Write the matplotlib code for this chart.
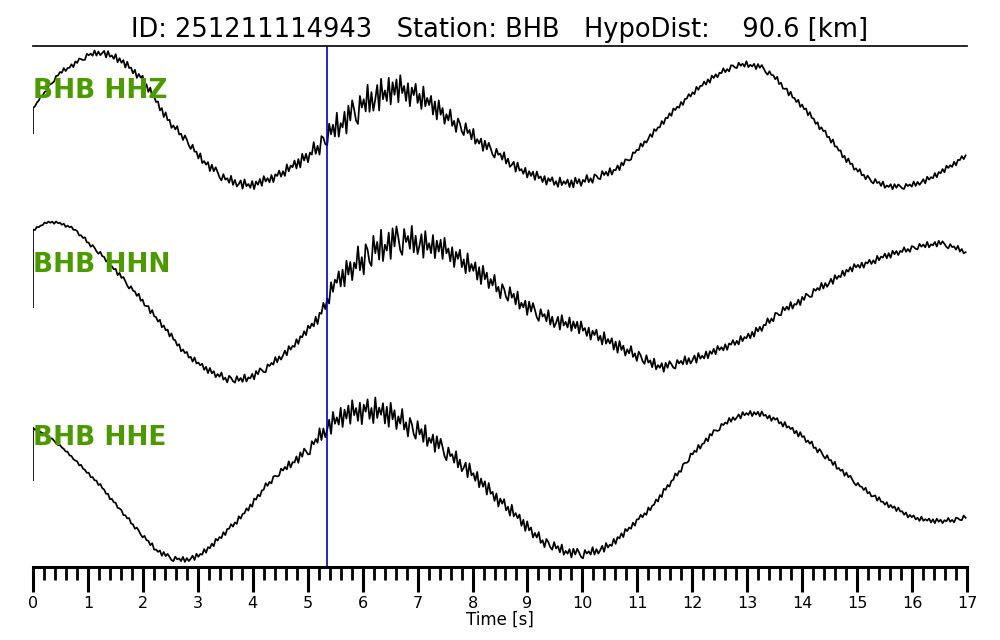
import numpy as np
import matplotlib
matplotlib.use("Agg")
from matplotlib import pyplot as plt
from matplotlib.ticker import MultipleLocator

event_id = "251211114943"
station = "BHB"
hypo_dist = 90.6
channels = ["HHZ", "HHN", "HHE"]
p_pick = 5.345  # s

# smooth trace shape, read every 0.25 s (arbitrary counts)
t_knots = np.arange(0, 17.001, 0.25)
hhz = [10, 29, 46, 54, 63, 66, 61, 51, 39, 16, -5, -19, -37, -50, -61, -65, -67, -62, -56, -47,
       -38, -25, -9, 1, 13, 23, 28, 28, 23, 14, 3, -7, -17, -29, -37, -47, -55, -60, -64, -65,
       -63, -59, -54, -46, -32, -17, -2, 12, 25, 36, 45, 52, 54, 51, 41, 26, 12, -4, -20, -38,
       -52, -62, -67, -69, -67, -62, -55, -46, -37]
hhn = [70, 78, 77, 71, 58, 45, 30, 14, -1, -18, -35, -52, -63, -72, -78, -80, -76, -68, -57, -45,
       -30, -13, 18, 30, 42, 51, 58, 60, 58, 55, 50, 42, 32, 23, 11, 3, -7, -15, -21, -23,
       -29, -35, -42, -49, -55, -63, -67, -63, -59, -55, -49, -43, -37, -28, -16, -7, 0, 10, 18, 27,
       34, 38, 44, 48, 52, 55, 57, 53, 48]
hhe = [54, 47, 36, 23, 9, -5, -22, -38, -54, -68, -76, -78, -74, -64, -50, -37, -21, -3, 10, 21,
       31, 48, 63, 68, 72, 71, 68, 60, 51, 43, 31, 20, 9, -6, -19, -31, -45, -58, -65, -70,
       -72, -69, -63, -52, -38, -26, -8, 10, 28, 42, 55, 64, 69, 68, 63, 55, 46, 34, 22, 10,
       -2, -12, -21, -28, -35, -38, -39, -38, -35]
first_sample = [-15, -7, 2]

# size of the high-frequency wiggle, read every 0.5 s
t_env = np.arange(0, 17.001, 0.5)
env_z = [1, 2, 3, 4, 4, 4, 4, 5, 5, 5, 7, 13, 17, 16, 13, 10, 7, 6, 5, 5, 5, 4, 3, 3, 3, 3, 3, 3,
         3, 3, 3, 3, 3, 3, 3]
env_n = [1, 1.5, 2, 2.5, 3, 3, 3, 4, 4, 4, 4, 10, 17, 17, 15, 12, 11, 9, 8, 8, 7, 7, 6, 5, 5, 4,
         4, 4, 4, 4, 3.5, 3.5, 3, 3, 3]
env_e = [1, 1, 1.5, 2, 2, 3, 3, 3, 3, 3, 6, 11, 14, 13, 11, 9, 8, 7, 6, 5, 5, 4, 3, 3, 3, 3, 3, 3,
         3, 3, 2.5, 2.5, 2.5, 2.5, 2.5]

jitter = [0.5, -0.9, 0.2, -0.3, 1.0, -0.6, 0.1, -1.0, 0.7, 0.3, -0.5, -0.8, 0.9, -0.2, 0.4, -0.7,
          1.0, -0.9, 0.0, -0.4, 0.6, -1.0, 0.8, -0.3, 0.9, 0.2, -0.6, -0.9, 0.7, -0.1, 0.3, -0.5,
          1.0, -0.7, 0.4, -0.8, -0.2, 0.6, -1.0, 0.9, -0.4, 0.1, -0.6, 0.8, -0.9, 0.5, -0.3, 0.7,
          -0.8, 1.0, -0.2, 0.3, -0.7, 0.6, -1.0, 0.4, -0.1, 0.8, -0.6, 0.2, -0.9, 1.0, -0.5, 0.3,
          -0.2, 0.7, -0.8, 0.5, -1.0, 0.9, -0.3]

traces = [hhz, hhn, hhe]
envs = [env_z, env_n, env_e]
norm = 182.0
label_dy = [0.148, 0.192, 0.242]

fig = plt.figure(figsize=(10, 6.4), dpi=100)
ax = fig.add_axes([0.033, 0.114, 0.934, 0.814])

t = np.arange(0, 17.0001, 0.035)
for k, (tr, env) in enumerate(zip(traces, envs)):
    base = np.interp(t, t_knots, tr)
    wig = np.roll(np.resize(jitter, len(t)), 23 * k) * np.interp(t, t_env, env)
    y = np.concatenate([[first_sample[k]], base + wig]) / norm - k
    tt = np.concatenate([[0.0], t])
    ax.plot(tt, y, color="black", lw=1.25)
    ax.text(0.0, -k + label_dy[k], station + " " + channels[k], color="#4a9a00",
            fontsize=19, fontweight="bold", va="center", ha="left")

ax.axvline(p_pick, color="mediumblue", lw=1.2)

ax.set_xlim(0, 17)
ax.set_ylim(-2.467, 0.396)
ax.set_yticks([])
ax.xaxis.set_major_locator(MultipleLocator(1))
ax.xaxis.set_minor_locator(MultipleLocator(0.2))
ax.tick_params(axis="x", which="major", length=18, width=2.2, labelsize=11.5, pad=3)
ax.tick_params(axis="x", which="minor", length=9, width=2.0)
for s in ["left", "right"]:
    ax.spines[s].set_visible(False)
ax.spines["top"].set_linewidth(1.2)
ax.spines["bottom"].set_linewidth(2.2)
ax.set_xlabel("Time [s]", fontsize=12, labelpad=0)
ax.set_title("ID: %s   Station: %s   HypoDist:    %.1f [km]" % (event_id, station, hypo_dist),
             fontsize=18.5, pad=6.5)

fig.savefig("out.png", dpi=100)
